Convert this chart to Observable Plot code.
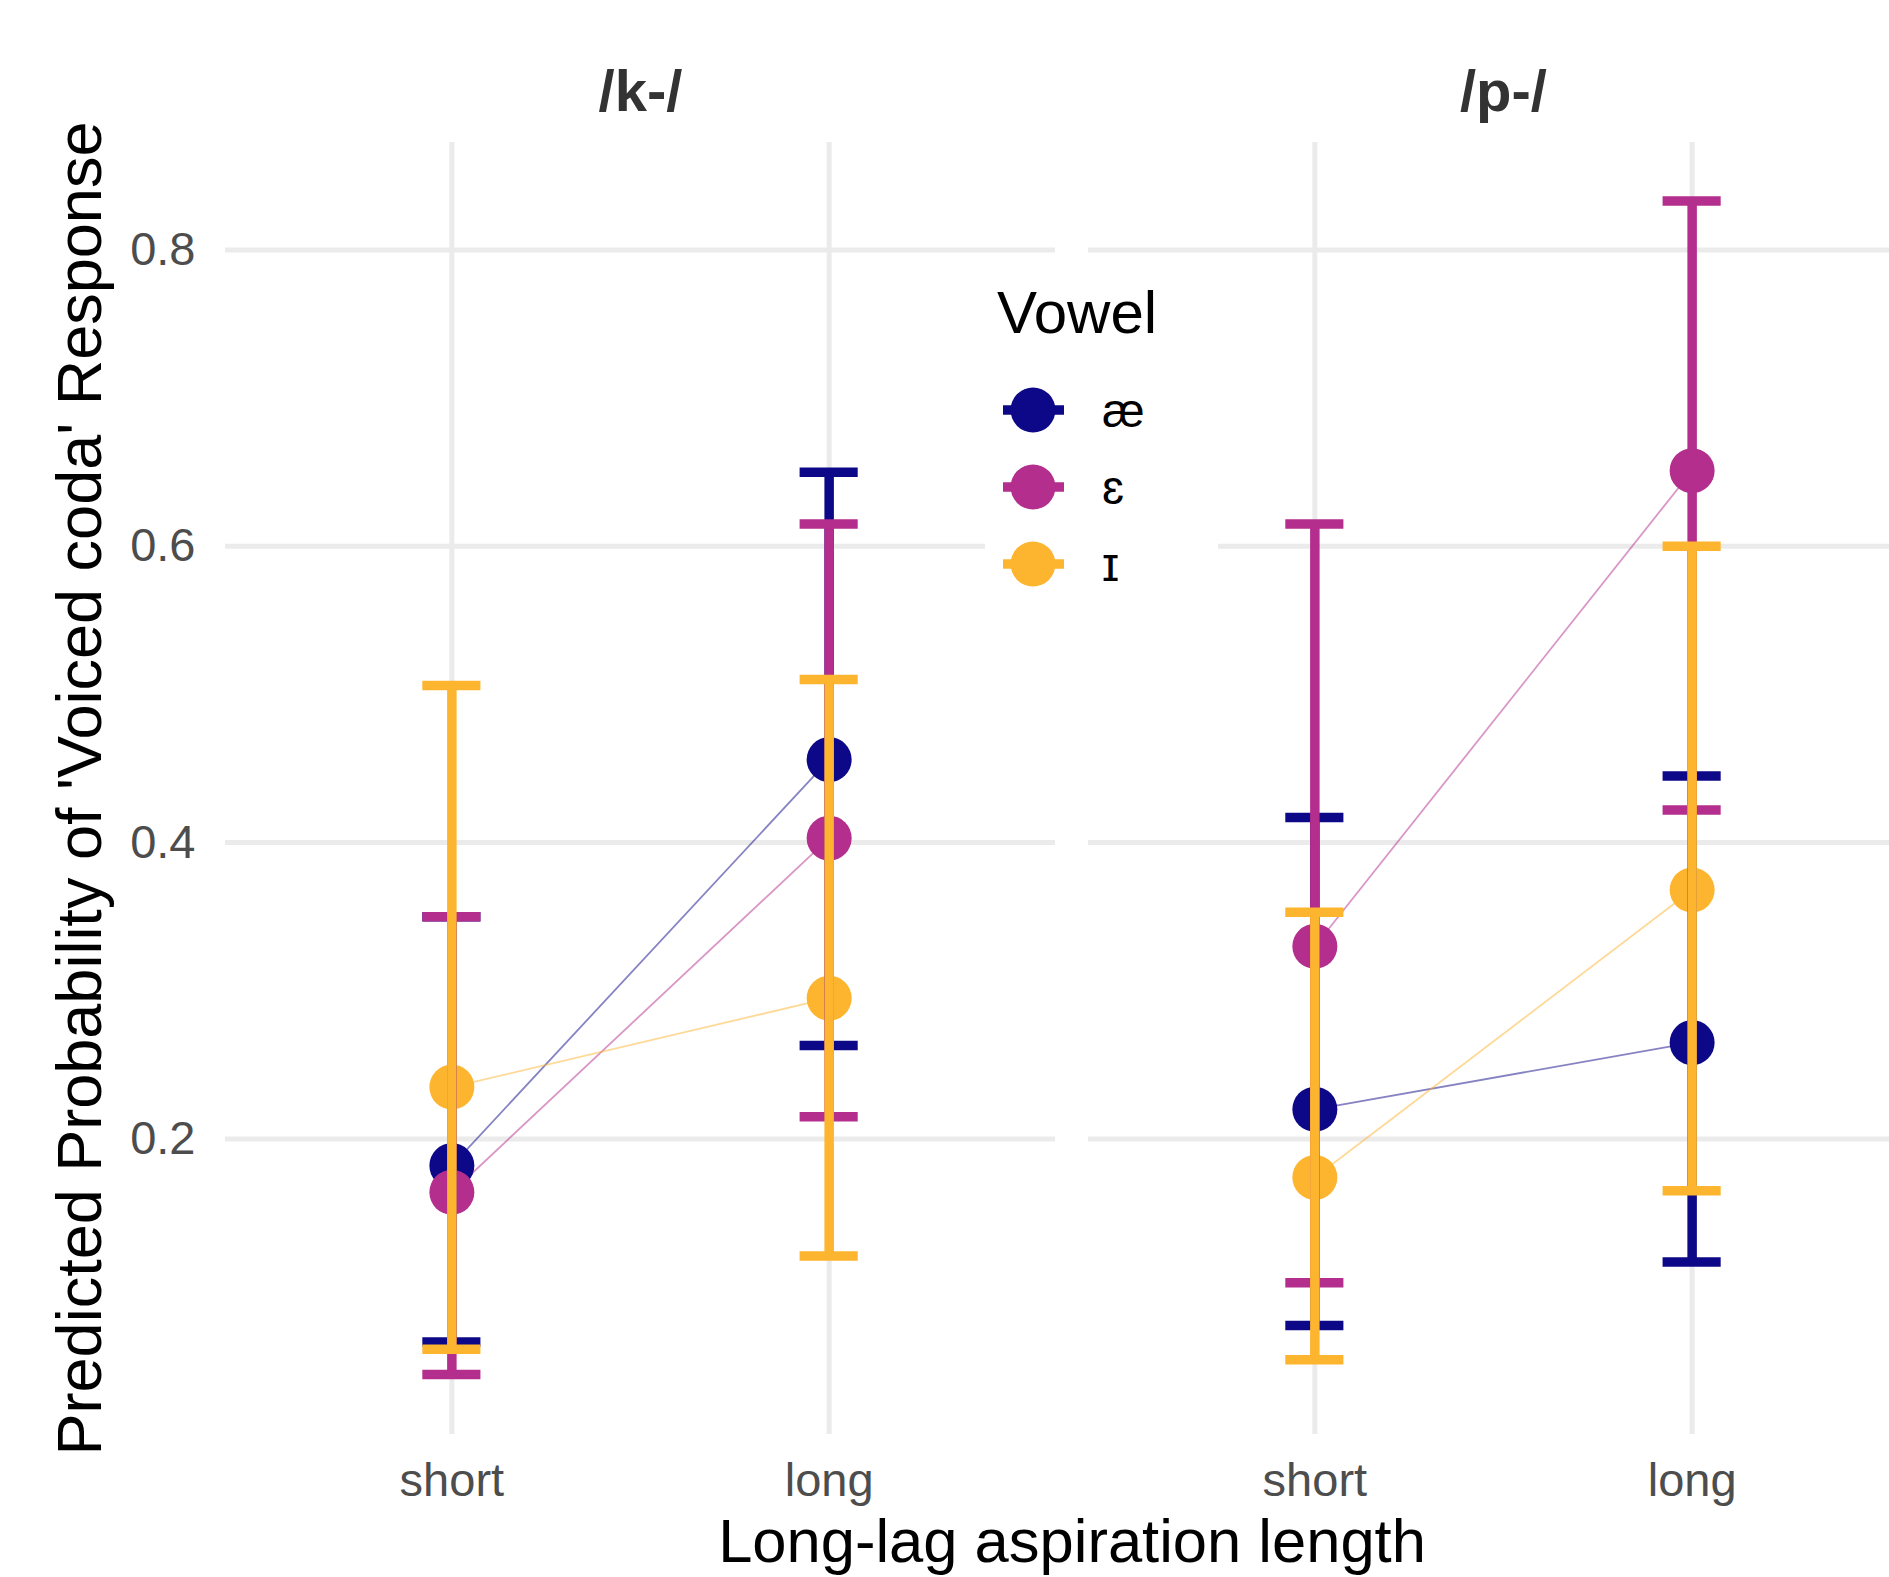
<!DOCTYPE html>
<html><head><meta charset="utf-8">
<script src="https://cdn.jsdelivr.net/npm/d3@7"></script>
<script src="https://cdn.jsdelivr.net/npm/@observablehq/plot@0.6"></script>
<style>
html,body{margin:0;padding:0;background:#fff;overflow:hidden;}
#wrap{position:relative;width:1889px;height:1577px;overflow:hidden;background:#fff;}
#legend{position:absolute;left:0;top:0;pointer-events:none;}
</style></head><body><div id="wrap"></div>
<script>
// ---- data ----
const panels = ["/k-/", "/p-/"];
const lengths = ["short", "long"];
const vowels = ["æ", "ɛ", "ɪ"];
const vowelColors = ["#0D0887", "#B42E8D", "#FDB42F"];
const yTicks = [0.2, 0.4, 0.6, 0.8];

const rowOnset  = ["/k-/","/k-/","/k-/","/k-/","/k-/","/k-/","/p-/","/p-/","/p-/","/p-/","/p-/","/p-/"];
const rowVowel  = ["æ","æ","ɛ","ɛ","ɪ","ɪ","æ","æ","ɛ","ɛ","ɪ","ɪ"];
const rowLength = ["short","long","short","long","short","long","short","long","short","long","short","long"];
const rowEstimate = [0.182, 0.456, 0.164, 0.403, 0.235, 0.295, 0.220, 0.265, 0.330, 0.651, 0.174, 0.368];
const rowLower    = [0.063, 0.263, 0.041, 0.215, 0.058, 0.121, 0.074, 0.117, 0.103, 0.422, 0.051, 0.165];
const rowUpper    = [0.350, 0.650, 0.350, 0.615, 0.506, 0.510, 0.417, 0.445, 0.615, 0.833, 0.353, 0.600];

const yLabel = "Predicted Probability of 'Voiced coda' Response";
const xLabel = "Long-lag aspiration length";
const legendTitle = "Vowel";

const data = rowOnset.map((o, i) => ({
  onset: o, vowel: rowVowel[i], length: rowLength[i],
  estimate: rowEstimate[i], lower: rowLower[i], upper: rowUpper[i]
}));

const EW = 9.5;
const errMarks = vowels.flatMap(v => {
  const d = data.filter(r => r.vowel === v);
  return [
    Plot.ruleX(d, {fx: "onset", x: "length", y1: "lower", y2: "upper", stroke: "vowel", strokeWidth: EW}),
    Plot.tickY(d, {fx: "onset", x: "length", y: "upper", stroke: "vowel", strokeWidth: EW}),
    Plot.tickY(d, {fx: "onset", x: "length", y: "lower", stroke: "vowel", strokeWidth: EW})
  ];
});

const chart = Plot.plot({
  width: 1918, height: 1577,
  marginTop: 142, marginBottom: 143, marginLeft: 225, marginRight: 0,
  style: {fontFamily: "'Liberation Sans', Arial, sans-serif", background: "#fff", maxWidth: "none"},
  fx: {domain: panels, paddingInner: 0.0382, paddingOuter: 0, round: false},
  x: {domain: lengths, type: "band", paddingInner: 0.846, paddingOuter: 0.523, round: false},
  y: {domain: [0.0005, 0.8725]},
  color: {domain: vowels, range: vowelColors},
  marks: [
    Plot.gridY(yTicks, {stroke: "#EBEBEB", strokeOpacity: 1, strokeWidth: 5}),
    Plot.gridX({stroke: "#EBEBEB", strokeOpacity: 1, strokeWidth: 5}),
    Plot.axisY(yTicks, {tickSize: 0, tickPadding: 30, fontSize: 47, fill: "#4D4D4D", tickFormat: d3.format(".1f"), label: null}),
    Plot.axisY([], {label: yLabel, labelAnchor: "center", labelArrow: "none", labelOffset: 169, fontSize: 63, fill: "#000", tickSize: 0}),
    Plot.axisX({tickSize: 0, tickPadding: 28, fontSize: 47, fill: "#4D4D4D", label: null}),
    Plot.axisFx({anchor: "top", tickSize: 0, tickPadding: 32, fontSize: 58, fontWeight: "bold", fill: "#333333", label: null}),
    Plot.axisFx([], {anchor: "bottom", label: xLabel, labelAnchor: "center", labelArrow: "none", labelOffset: 127, fontSize: 61.5, fill: "#000", tickSize: 0}),
    Plot.line(data, {fx: "onset", x: "length", y: "estimate", z: "vowel", stroke: "vowel", strokeWidth: 1.8, strokeOpacity: 0.5}),
    Plot.dot(data, {fx: "onset", x: "length", y: "estimate", fill: "vowel", r: 22.5}),
    ...errMarks
  ]
});
chart.querySelectorAll('[aria-label="fx-axis tick label"]').forEach(g => g.setAttribute("font-weight", "bold"));
document.getElementById("wrap").appendChild(chart);

// ---- legend overlay (inside plot area, like the original) ----
const lg = d3.select("#wrap").append("svg").attr("id", "legend")
  .attr("width", 1889).attr("height", 1577)
  .style("font-family", "'Liberation Sans', Arial, sans-serif");
lg.append("rect").attr("x", 985).attr("y", 258).attr("width", 233).attr("height", 340).attr("fill", "#fff");
lg.append("text").attr("x", 997).attr("y", 333).attr("font-size", 60).attr("fill", "#000").text(legendTitle);
vowels.forEach((v, i) => {
  const cy = 410 + i * 77;
  lg.append("line").attr("x1", 1003).attr("x2", 1064).attr("y1", cy).attr("y2", cy)
    .attr("stroke", vowelColors[i]).attr("stroke-width", EW);
  lg.append("circle").attr("cx", 1033).attr("cy", cy).attr("r", 22.5).attr("fill", vowelColors[i]);
  lg.append("text").attr("x", 1102).attr("y", cy + 17).attr("font-size", 48).attr("fill", "#000").text(v);
});
</script></body></html>
